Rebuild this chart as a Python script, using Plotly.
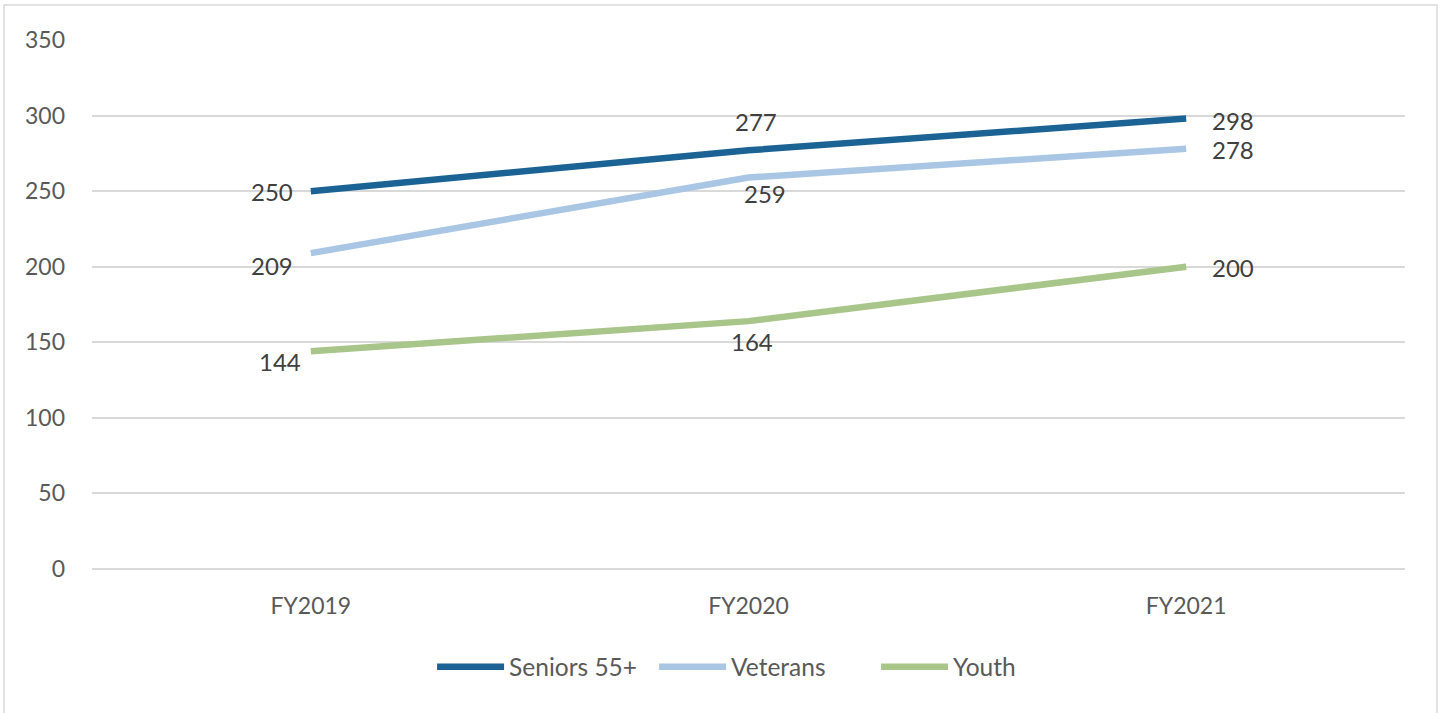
import plotly.graph_objects as go

categories = ["FY2019", "FY2020", "FY2021"]
seniors = [250, 277, 298]
veterans = [209, 259, 278]
youth = [144, 164, 200]
y_ticks = [0, 50, 100, 150, 200, 250, 300, 350]

series = [
    ("Seniors 55+", seniors, "#1B6394"),
    ("Veterans", veterans, "#A9C6E5"),
    ("Youth", youth, "#A8C58A"),
]

# label offsets (px) per series per point
label_offsets = [
    [(-39, 0), (7, 29), (47, -2)],
    [(-39, -12), (16, -16), (47, -1)],
    [(-31, -10), (3, -20), (47, -1)],
]

FONT = "Lato, Carlito, Calibri, sans-serif"
TXT = "#404040"

fig = go.Figure()
annotations = []
for (name, vals, color), offs in zip(series, label_offsets):
    fig.add_trace(go.Scatter(
        x=categories, y=vals, name=name, mode="lines",
        line=dict(color=color, width=6.5),
    ))
    for c, v, (dx, dy) in zip(categories, vals, offs):
        annotations.append(dict(
            x=c, y=v, text=str(v), showarrow=False,
            xshift=dx, yshift=dy, xanchor="center", yanchor="middle",
            font=dict(family=FONT, size=24, color=TXT),
        ))

fig.update_layout(
    width=1443, height=713,
    margin=dict(l=92, r=38, t=40, b=144),
    paper_bgcolor="white", plot_bgcolor="white",
    font=dict(family=FONT, size=23, color="#595959"),
    showlegend=True,
    legend=dict(
        orientation="h", x=0.259, xanchor="left", y=-0.185, yanchor="middle",
        font=dict(family=FONT, size=24.5, color="#595959"),
        traceorder="normal", itemwidth=67,
        entrywidth=140, entrywidthmode="pixels",
    ),
    annotations=annotations,
    shapes=[dict(
        type="rect", xref="paper", yref="paper",
        x0=-0.0670, x1=1.0244, y0=-0.285, y1=1.0662,
        line=dict(color="#D9D9D9", width=1.5), fillcolor="rgba(0,0,0,0)",
        layer="below",
    )],
)
fig.update_xaxes(
    type="category", range=[-0.5, 2.5], showgrid=False, showline=False,
    zeroline=False, ticks="", ticklabelstandoff=21,
    tickfont=dict(family=FONT, size=23, color="#595959"),
)
fig.update_yaxes(
    range=[0, 350], tickvals=y_ticks, showgrid=True, gridcolor="#D9D9D9",
    gridwidth=1.5, zeroline=True, zerolinecolor="#D9D9D9", zerolinewidth=1.5,
    showline=False, ticks="", ticklabelstandoff=26,
    tickfont=dict(family=FONT, size=23, color="#595959"),
)

fig.write_html(
    "out.html",
    config={"displayModeBar": False},
    post_script="document.body.style.margin='0';document.body.style.overflow='hidden';",
)
